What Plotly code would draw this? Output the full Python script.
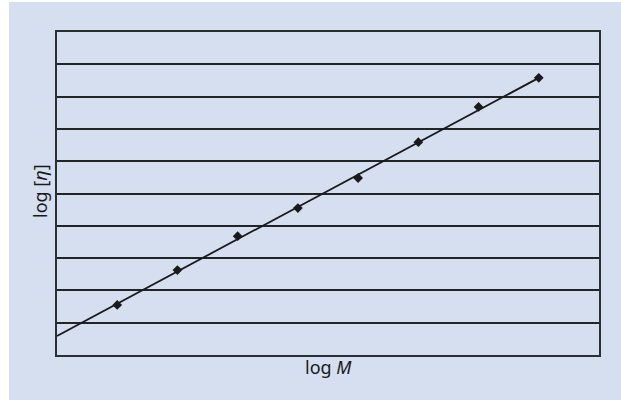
import plotly.graph_objects as go

# data
log_M = [1, 2, 3, 4, 5, 6, 7, 8]
log_eta = [1.55, 2.63, 3.68, 4.55, 5.48, 6.59, 7.68, 8.58]
fit_x = [0, 8]
fit_y = [0.59, 8.58]
x_title = "log <i>M</i>"
y_title = "log [<i>η</i>]"

bg = "#d5dff0"
fig = go.Figure()
fig.add_trace(go.Scatter(x=fit_x, y=fit_y, mode="lines",
                         line=dict(color="#1a1a1a", width=1.8), hoverinfo="skip"))
fig.add_trace(go.Scatter(x=log_M, y=log_eta, mode="markers",
                         marker=dict(symbol="diamond", size=7.5, color="#1a1a1a")))

W, H = 621, 400
L, R, T, B = 57, 22, 32, 45
pw, ph = W - L - R, H - T - B

fig.update_layout(
    width=W, height=H, showlegend=False,
    margin=dict(l=L, r=R, t=T, b=B, pad=0),
    paper_bgcolor=bg, plot_bgcolor=bg,
    font=dict(family="Noto Sans, Open Sans, sans-serif", size=18, color="#1a1a1a"),
    xaxis=dict(range=[0, 9], showgrid=False, zeroline=False, showticklabels=False,
               ticks="", showline=True, linecolor="#2a2f33", linewidth=2, mirror=True,
               fixedrange=True),
    yaxis=dict(range=[0, 10], dtick=1, showgrid=True, gridcolor="#222528", gridwidth=1.5,
               zeroline=False, showticklabels=False, ticks="", showline=True,
               linecolor="#2a2f33", linewidth=2, mirror=True, fixedrange=True),
    annotations=[
        dict(text=x_title, xref="paper", yref="paper", x=(328 - L) / pw, y=(H - B - 367) / ph,
             xanchor="center", yanchor="middle", showarrow=False, font=dict(size=18)),
        dict(text=y_title, xref="paper", yref="paper", x=(40 - L) / pw, y=(H - B - 191) / ph,
             xanchor="center", yanchor="middle", showarrow=False, textangle=-90,
             font=dict(size=18)),
    ],
    shapes=[
        dict(type="rect", xref="paper", yref="paper", x0=-L / pw, x1=(9 - L) / pw,
             y0=-B / ph, y1=(H - B) / ph, fillcolor="white", line=dict(width=0), layer="below"),
        dict(type="rect", xref="paper", yref="paper", x0=-L / pw, x1=(W - L) / pw,
             y0=(H - B - 2) / ph, y1=(H - B) / ph, fillcolor="white", line=dict(width=0), layer="below"),
    ],
)
fig.write_html("out.html", config={"displayModeBar": False},
               post_script="document.body.style.margin='0';document.body.style.overflow='hidden';")
